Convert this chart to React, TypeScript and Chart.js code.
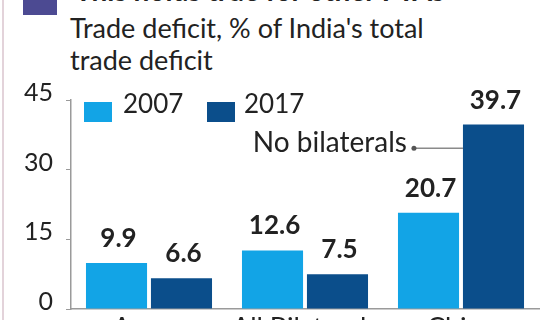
import React, { useEffect, useRef } from "react";
import { Chart, registerables } from "chart.js";

Chart.register(...registerables);

const title = "This holds true for other FTAs";
const subtitleLines = ["Trade deficit, % of India's total", "trade deficit"];
const categories = ["Asean", "All Bilaterals", "China"];
const series2007 = [9.9, 12.6, 20.7];
const series2017 = [6.6, 7.5, 39.7];
const seriesNames = ["2007", "2017"];
const yTicks = [0, 15, 30, 45];
const annotationText = "No bilaterals";

const COLOR_2007 = "#12a4e6";
const COLOR_2017 = "#0b4e8b";
const FONT = "Lato, 'Noto Sans', sans-serif";
const TEXT = "#222222";

const valueLabels = {
  id: "valueLabels",
  afterDatasetsDraw(chart: any) {
    const ctx = chart.ctx;
    ctx.save();
    ctx.font = `bold 26px ${FONT}`;
    ctx.fillStyle = TEXT;
    ctx.textAlign = "center";
    ctx.textBaseline = "alphabetic";
    chart.data.datasets.forEach((ds: any, di: number) => {
      const meta = chart.getDatasetMeta(di);
      meta.data.forEach((bar: any, i: number) => {
        ctx.fillText(String(ds.data[i]), bar.x + 2, bar.y - 16);
      });
    });
    // annotation pointing to China 2017 bar
    const meta = chart.getDatasetMeta(1);
    const bar = meta.data[2];
    const yPos = chart.scales.y.getPixelForValue(34.6);
    const left = bar.x - bar.width / 2;
    const endX = left - 49;
    ctx.strokeStyle = "#8a8a8a";
    ctx.lineWidth = 1.5;
    ctx.beginPath();
    ctx.moveTo(left, yPos);
    ctx.lineTo(endX, yPos);
    ctx.stroke();
    ctx.fillStyle = "#555";
    ctx.beginPath();
    ctx.arc(endX, yPos, 2.5, 0, Math.PI * 2);
    ctx.fill();
    ctx.fillStyle = TEXT;
    ctx.font = `28px ${FONT}`;
    ctx.textAlign = "right";
    ctx.fillText(annotationText, endX - 7, yPos + 4);
    ctx.restore();
  },
};

export default function App() {
  const ref = useRef<HTMLCanvasElement>(null);
  useEffect(() => {
    if (!ref.current) return;
    const chart = new Chart(ref.current, {
      type: "bar",
      data: {
        labels: categories,
        datasets: [
          { label: seriesNames[0], data: series2007, backgroundColor: COLOR_2007 },
          { label: seriesNames[1], data: series2017, backgroundColor: COLOR_2017 },
        ],
      },
      options: {
        responsive: false,
        animation: false,
        events: [],
        layout: { padding: { top: 100, right: 3, left: 0, bottom: 0 } },
        datasets: { bar: { categoryPercentage: 0.833, barPercentage: 0.94 } } as any,
        plugins: { legend: { display: false }, tooltip: { enabled: false }, title: { display: false } },
        scales: {
          x: {
            grid: { display: false, drawTicks: false },
            border: { display: true, color: "#9a9a9a", width: 1.5 },
            ticks: { color: TEXT, font: { family: FONT, size: 27 }, padding: 3, maxRotation: 0 },
            afterFit(scale: any) {
              scale.height = 11;
              scale.paddingLeft = 0;
              scale.paddingRight = 0;
            },
          },
          y: {
            min: 0,
            max: 45,
            afterBuildTicks(scale: any) {
              scale.ticks = yTicks.map((v) => ({ value: v }));
            },
            grid: { drawOnChartArea: false, drawTicks: true, tickLength: 5, color: "#9a9a9a" },
            border: { display: true, color: "#9a9a9a", width: 1.5 },
            ticks: { color: TEXT, font: { family: FONT, size: 25 }, padding: 13, labelOffset: -7 },
            afterFit(scale: any) {
              scale.width = 71;
              scale.paddingTop = 0;
              scale.paddingBottom = 0;
            },
          },
        },
      },
      plugins: [valueLabels],
    });
    return () => chart.destroy();
  }, []);

  return (
    <div
      style={{
        position: "absolute",
        left: 0,
        top: 0,
        width: 542,
        height: 320,
        overflow: "hidden",
        background: "#fff",
        fontFamily: FONT,
        color: TEXT,
      }}
    >
      <div style={{ position: "absolute", left: 2, top: 0, width: 2, height: 320, background: "#e3d3da" }} />
      <div style={{ position: "absolute", left: 23, top: -20, width: 34, height: 35, background: "#4c4a92" }} />
      <div
        style={{
          position: "absolute",
          left: 75,
          top: -27,
          fontSize: 28,
          fontWeight: "bold",
          whiteSpace: "nowrap",
          lineHeight: "34px",
        }}
      >
        {title}
      </div>
      <div style={{ position: "absolute", left: 70, top: 12, fontSize: 27, lineHeight: "32px", whiteSpace: "nowrap" }}>
        {subtitleLines.map((l, i) => (
          <div key={i}>{l}</div>
        ))}
      </div>
      <canvas ref={ref} width={542} height={320} style={{ position: "absolute", left: 0, top: 0, width: 542, height: 320 }} />
      <div style={{ position: "absolute", left: 84, top: 102, width: 28, height: 20, background: COLOR_2007 }} />
      <div style={{ position: "absolute", left: 123, top: 87, fontSize: 26, lineHeight: "32px" }}>{seriesNames[0]}</div>
      <div style={{ position: "absolute", left: 207, top: 102, width: 28, height: 20, background: COLOR_2017 }} />
      <div style={{ position: "absolute", left: 244, top: 87, fontSize: 26, lineHeight: "32px" }}>{seriesNames[1]}</div>
    </div>
  );
}
